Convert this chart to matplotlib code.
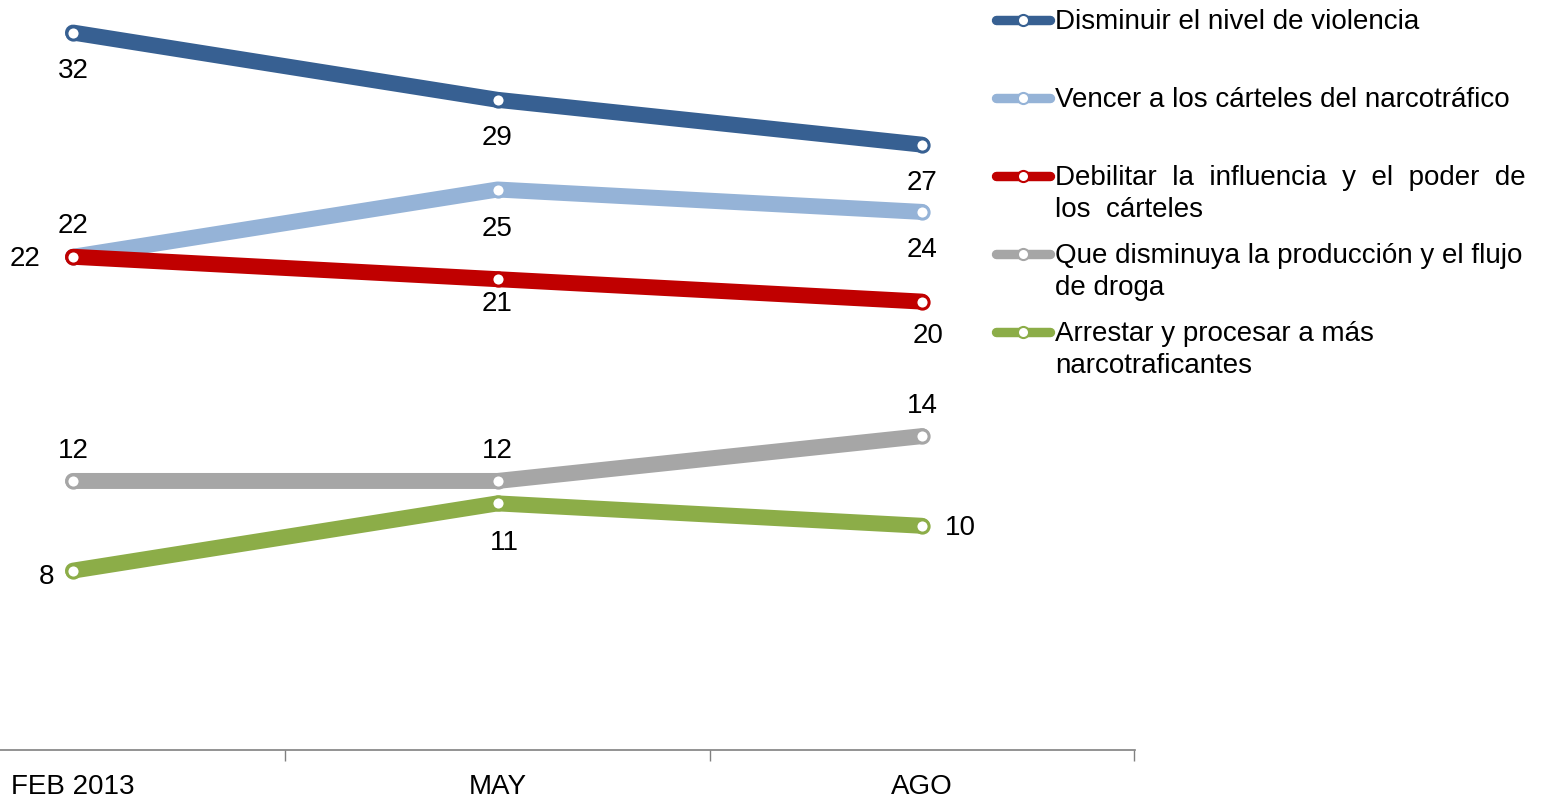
import matplotlib
matplotlib.use("Agg")
import matplotlib.pyplot as plt
from matplotlib.lines import Line2D

plt.rcParams['font.family'] = ['Liberation Sans', 'DejaVu Sans']

categories = ["FEB 2013", "MAY", "AGO"]
violencia = [32, 29, 27]
vencer = [22, 25, 24]
debilitar = [22, 21, 20]
droga = [12, 12, 14]
arrestar = [8, 11, 10]

series_names = [
    "Disminuir el nivel de violencia",
    "Vencer a los cárteles del narcotráfico",
    "Debilitar  la  influencia  y  el  poder  de\nlos  cárteles",
    "Que disminuya la producción y el flujo\nde droga",
    "Arrestar y procesar a más\nnarcotraficantes",
]
series_values = [violencia, vencer, debilitar, droga, arrestar]
colors = ["#376092", "#95B3D7", "#C00000", "#A6A6A6", "#8CAD48"]

# label offsets (pixels) per point
offsets = [
    [(0, -38), (0, -38), (0, -38)],
    [(0, 31), (0, -39), (0, -38)],
    [(-48, -2), (0, -25), (6, -34)],
    [(0, 30), (0, 30), (0, 30)],
    [(-27, -6), (7, -40), (38, -2)],
]

W, H = 1550, 800
FS = 20
fig = plt.figure(figsize=(W / 100, H / 100), dpi=100)
ax = fig.add_axes([0, 50 / H, 1135 / W, 750 / H])

x = list(range(len(categories)))
draw_order = [3, 4, 1, 2, 0]
for i in draw_order:
    ax.plot(x, series_values[i], color=colors[i], lw=11.5, solid_capstyle='round',
            marker='o', markersize=9.5, markerfacecolor='white',
            markeredgecolor=colors[i], markeredgewidth=2.2, zorder=3 + i * 0.1)
for i, vals in enumerate(series_values):
    for j, v in enumerate(vals):
        dx, dy = offsets[i][j]
        ax.annotate(str(v), (x[j], v), xytext=(dx, dy), textcoords='offset pixels',
                    ha='center', va='center', fontsize=FS, color='black', zorder=10)

ax.set_xlim(-73 / 424.5, (1135 - 73) / 424.5)
ax.set_ylim(0, 750 / 22.42)
for s in ['top', 'right', 'left']:
    ax.spines[s].set_visible(False)
ax.spines['bottom'].set_color('#808080')
ax.spines['bottom'].set_linewidth(1.2)
ax.set_yticks([])
ax.set_xticks([0.5, 1.5, 2.5])
ax.set_xticklabels([])
ax.tick_params(axis='x', length=8, color='#808080', width=1)
ax.set_xticks(x, minor=True)
ax.set_xticklabels(categories, minor=True, fontsize=FS)
ax.tick_params(axis='x', which='minor', length=0, pad=17)

# legend drawn in figure pixel coordinates
row_y = [20, 98, 176, 254, 332]
for i, name in enumerate(series_names):
    yy = H - row_y[i]
    fig.add_artist(Line2D([996 / W, 1050 / W], [yy / H, yy / H], color=colors[i],
                          lw=6.8, solid_capstyle='round'))
    fig.add_artist(Line2D([1023.5 / W], [yy / H], marker='o', markersize=8,
                          markerfacecolor='white', markeredgecolor=colors[i],
                          markeredgewidth=1.5, linestyle='none'))
    fig.text(1055 / W, (yy + 11) / H, name, fontsize=FS, va='top', ha='left',
             linespacing=1.3)

fig.savefig("out.png", dpi=100)
